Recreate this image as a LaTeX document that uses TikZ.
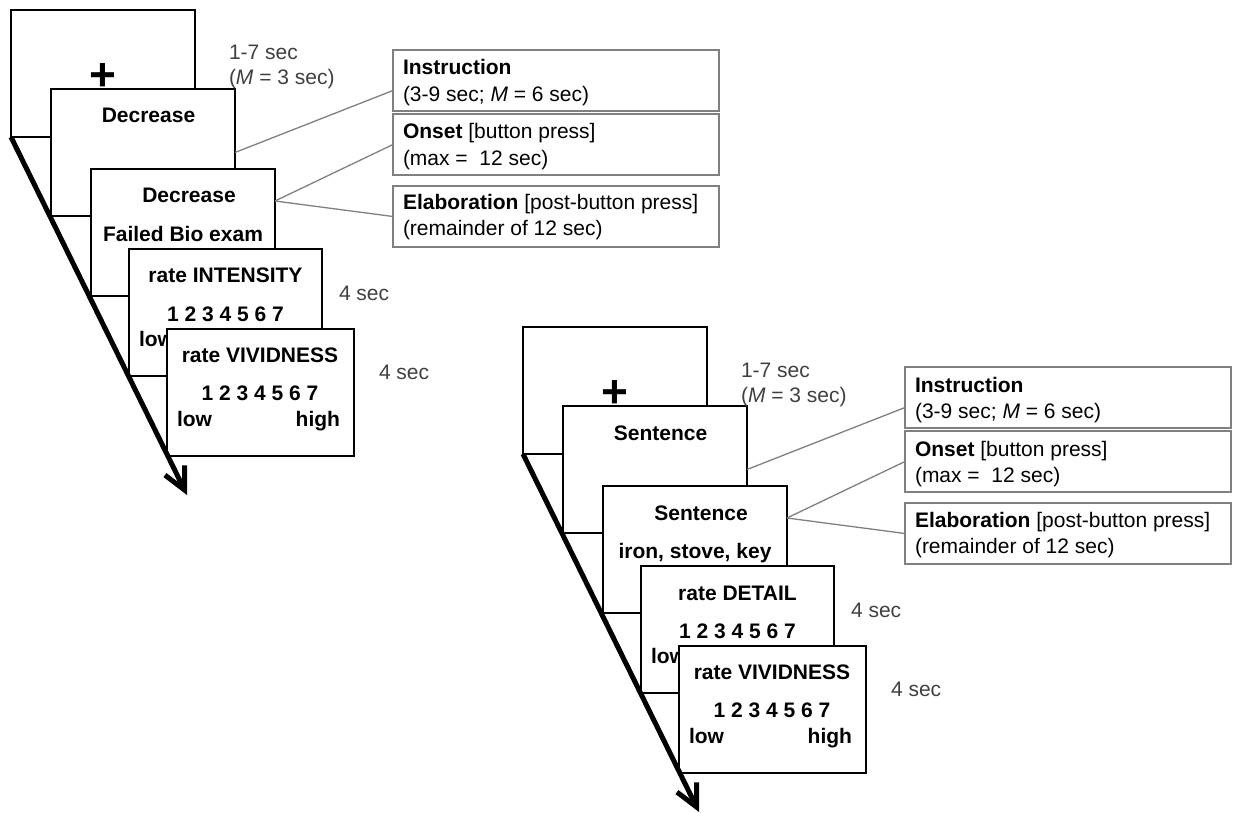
\documentclass[tikz,border=0pt]{standalone}
\usepackage{fontspec}
\setmainfont{Liberation Sans}
\usetikzlibrary{arrows.meta}
\definecolor{framegray}{HTML}{808080}
\definecolor{labelgray}{HTML}{404040}
\tikzset{
  screen/.style={draw=black, line width=2pt, fill=white, inner sep=0pt, outer sep=0pt, anchor=north west, minimum height=127pt},
  bigtxt/.style={font=\fontsize{21}{25}\selectfont\bfseries, inner sep=0pt, outer sep=0pt, text=black},
  timelbl/.style={font=\fontsize{21}{25}\selectfont, inner sep=0pt, outer sep=0pt, text=labelgray, anchor=base west},
  phase/.style={draw=framegray, line width=1.5pt, fill=white, inner sep=0pt, outer sep=0pt, anchor=north west, minimum width=326pt, minimum height=61pt},
  phasetxt/.style={font=\fontsize{21}{25}\selectfont, inner sep=0pt, outer sep=0pt, anchor=base west, text=black},
  link/.style={draw=framegray, line width=1.3pt},
  timeline/.style={line width=5pt, -{Straight Barb[length=22pt,width=22pt]}},
  cross/.style={font=\fontsize{46}{46}\selectfont\bfseries, inner sep=0pt, outer sep=0pt, anchor=base}
}
\newcommand{\trialset}[6]{%
\begin{scope}[shift={#2}]
  \node[screen, minimum width=184pt] (#1sa) at (11,10) {};
  \node[cross] (#1fix) at (102.5,90.8) {+};
  \node[screen, minimum width=184pt] (#1sb) at (51,89) {};
  \node[bigtxt, anchor=base] (#1sbt) at (148.5,123) {#3};
  \node[screen, minimum width=184pt] (#1sc) at (91,169) {};
  \node[bigtxt, anchor=base] (#1sct) at (189,203) {#4};
  \node[bigtxt, anchor=base] (#1scw) at (183,241) {#5};
  \node[screen, minimum width=193pt] (#1sd) at (129,249) {};
  \node[bigtxt, anchor=base] (#1sdt) at (225.5,283) {#6};
  \node[bigtxt, anchor=base] (#1sdn) at (225.5,321) {1 2 3 4 5 6 7};
  \node[bigtxt, anchor=base west] (#1sdl) at (139,346) {low};
  \node[screen, minimum width=187pt] (#1se) at (167,329) {};
  \node[bigtxt, anchor=base] (#1set) at (260,362) {rate VIVIDNESS};
  \node[bigtxt, anchor=base] (#1sen) at (260,400) {1 2 3 4 5 6 7};
  \node[bigtxt, anchor=base west] (#1sel) at (177,426) {low};
  \node[bigtxt, anchor=base east] (#1seh) at (340,426) {high};
  \coordinate (#1tip) at (187,495);
  \draw[timeline] (#1sa.south west) -- (#1tip);
  % durations
  \node[timelbl] (#1da) at (229,60) {1-7 sec};
  \node[timelbl] (#1db) at (229,85) {(\textit{M} = 3 sec)};
  \node[timelbl] (#1dc) at (339,300) {4 sec};
  \node[timelbl] (#1dd) at (379,379) {4 sec};
  % phase boxes
  \node[phase] (#1ins) at (393,50) {};
  \node[phasetxt] (#1insa) at (403,75) {\textbf{Instruction}};
  \node[phasetxt] (#1insb) at (403,101.5) {(3-9 sec; \textit{M} = 6 sec)};
  \node[phase] (#1ons) at (393,114) {};
  \node[phasetxt] (#1onsa) at (403,139) {\textbf{Onset} [button press]};
  \node[phasetxt] (#1onsb) at (403,165.5) {(max = \ 12 sec)};
  \node[phase] (#1ela) at (393,186) {};
  \node[phasetxt] (#1elaa) at (403,210) {\textbf{Elaboration} [post-button press]};
  \node[phasetxt] (#1elab) at (403,236) {(remainder of 12 sec)};
  % links
  \coordinate (#1scp) at ([yshift=-32pt]#1sc.north east);
  \draw[link] (#1sb.east) -- ([yshift=-10pt]#1ins.west);
  \draw[link] (#1scp) -- (#1ons.west);
  \draw[link] (#1scp) -- (#1ela.west);
\end{scope}}
\begin{document}
\begin{tikzpicture}[x=1pt,y=-1pt]
  \useasboundingbox[fill=white] (0,0) rectangle (1237,813);
  \trialset{L}{(0,0)}{Decrease}{Decrease}{Failed Bio exam}{rate INTENSITY}
  \trialset{R}{(512,317)}{Sentence}{Sentence}{iron, stove, key}{rate DETAIL}
\end{tikzpicture}
\end{document}
